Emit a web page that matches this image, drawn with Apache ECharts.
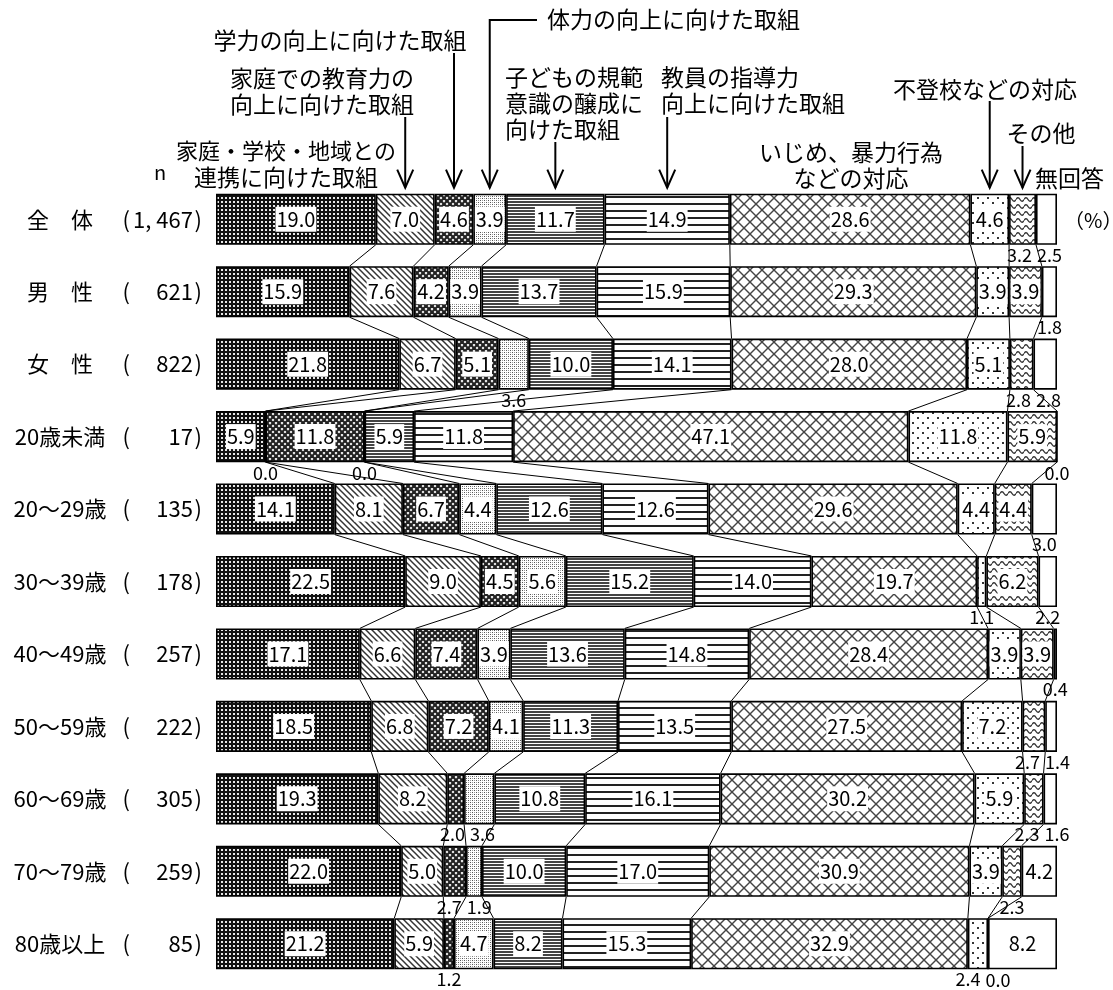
<!DOCTYPE html>
<html><head><meta charset="utf-8">
<script src="https://cdn.jsdelivr.net/npm/echarts@6/dist/echarts.min.js"></script>
<style>html,body{margin:0;padding:0;background:#fff}#c{width:1113px;height:990px}</style>
</head><body><div id="c"></div>
<script>
// ---- data ----
const categories = ['家庭・学校・地域との連携に向けた取組', '家庭での教育力の向上に向けた取組', '学力の向上に向けた取組', '体力の向上に向けた取組', '子どもの規範意識の醸成に向けた取組', '教員の指導力向上に向けた取組', 'いじめ、暴力行為などの対応', '不登校などの対応', 'その他', '無回答'];
const rowNames = ['全　体', '男　性', '女　性', '20歳未満', '20～29歳', '30～39歳', '40～49歳', '50～59歳', '60～69歳', '70～79歳', '80歳以上'];
const rowN = ['1, 467', '621', '822', '17', '135', '178', '257', '222', '305', '259', '85'];
const rowAll   = [19.0, 7.0, 4.6, 3.9, 11.7, 14.9, 28.6, 4.6, 3.2, 2.5];
const rowMale  = [15.9, 7.6, 4.2, 3.9, 13.7, 15.9, 29.3, 3.9, 3.9, 1.8];
const rowFem   = [21.8, 6.7, 5.1, 3.6, 10.0, 14.1, 28.0, 5.1, 2.8, 2.8];
const rowU20   = [5.9, 0.0, 11.8, 0.0, 5.9, 11.8, 47.1, 11.8, 5.9, 0.0];
const row20s   = [14.1, 8.1, 6.7, 4.4, 12.6, 12.6, 29.6, 4.4, 4.4, 3.0];
const row30s   = [22.5, 9.0, 4.5, 5.6, 15.2, 14.0, 19.7, 1.1, 6.2, 2.2];
const row40s   = [17.1, 6.6, 7.4, 3.9, 13.6, 14.8, 28.4, 3.9, 3.9, 0.4];
const row50s   = [18.5, 6.8, 7.2, 4.1, 11.3, 13.5, 27.5, 7.2, 2.7, 1.4];
const row60s   = [19.3, 8.2, 2.0, 3.6, 10.8, 16.1, 30.2, 5.9, 2.3, 1.6];
const row70s   = [22.0, 5.0, 2.7, 1.9, 10.0, 17.0, 30.9, 3.9, 2.3, 4.2];
const row80s   = [21.2, 5.9, 1.2, 4.7, 8.2, 15.3, 32.9, 2.4, 0.0, 8.2];
const rows = [rowAll, rowMale, rowFem, rowU20, row20s, row30s, row40s, row50s, row60s, row70s, row80s];

// ---- patterns ----
const FONT = '"Noto Sans CJK JP", "Noto Sans", sans-serif';
function tile(w, h, draw) {
  const c = document.createElement('canvas');
  c.width = w; c.height = h;
  const g = c.getContext('2d');
  g.fillStyle = '#fff'; g.fillRect(0, 0, w, h);
  draw(g, w, h);
  return {image: c, repeat: 'repeat'};
}
function diag(g, s, dir) {
  for (let o = -s; o <= s; o += s) {
    g.beginPath();
    if (dir > 0) { g.moveTo(o - 1, -1); g.lineTo(o + s + 1, s + 1); }
    else { g.moveTo(o + s + 1, -1); g.lineTo(o - 1, s + 1); }
    g.stroke();
  }
}
const patterns = [
  tile(4, 4, g => { g.fillStyle = '#111'; g.fillRect(0, 0, 4, 4); g.fillStyle = '#e8e8e8'; g.fillRect(1, 1, 2, 2); }),
  tile(6, 6, g => { g.strokeStyle = '#333'; g.lineWidth = 1.5; diag(g, 6, 1); }),
  tile(6, 6, g => { g.strokeStyle = '#222'; g.lineWidth = 2.2; diag(g, 6, 1); diag(g, 6, -1); }),
  tile(4, 4, g => { g.fillStyle = '#555'; g.fillRect(0, 0, 1, 1); g.fillRect(2, 2, 1, 1); g.fillStyle = '#999'; g.fillRect(2, 0, 1, 1); g.fillRect(0, 2, 1, 1); }),
  tile(4, 3, g => { g.fillStyle = '#444'; g.fillRect(0, 0, 4, 2); }),
  tile(4, 7, g => { g.fillStyle = '#222'; g.fillRect(0, 0, 4, 2); }),
  tile(12, 12, g => { g.strokeStyle = '#444'; g.lineWidth = 1.4; diag(g, 12, 1); diag(g, 12, -1); }),
  tile(10, 10, g => { g.fillStyle = '#333'; g.fillRect(2, 2, 2, 2); g.fillRect(7, 7, 2, 2); }),
  tile(8, 7, g => { g.strokeStyle = '#333'; g.lineWidth = 1.4; g.beginPath(); g.moveTo(0, 3.5); g.quadraticCurveTo(2, 0, 4, 3.5); g.quadraticCurveTo(6, 7, 8, 3.5); g.stroke(); }),
  '#fff'
];

// ---- derived ----
const sums = rows.map(r => r.reduce((a, b) => a + b, 0));
const norm = rows.map((r, i) => r.map(v => v / sums[i] * 100));
const cum = norm.map(r => { let s = 0; return r.map(v => (s += v)); });
const GAP = 0.295;
const INSIDE_MIN = 3.7;
const isOut = (i, k) => rows[i][k] < INSIDE_MIN;

function buildSeries(nudge) {
  const s = categories.map((name, k) => ({
    type: 'bar', name, stack: 'total', barCategoryGap: (GAP * 100) + '%',
    itemStyle: {color: patterns[k], borderColor: '#000', borderWidth: 1.6},
    label: {
      show: true, position: 'inside', color: '#000', fontSize: 20, fontFamily: FONT,
      backgroundColor: '#fff', padding: [3, 1, 2, 1],
      formatter: p => rows[p.dataIndex][k].toFixed(1)
    },
    emphasis: {disabled: true},
    data: norm.map((r, i) => {
      const item = {value: r[k]};
      if (isOut(i, k)) item.label = {position: 'bottom', distance: 1, backgroundColor: 'transparent', fontSize: 18, padding: 0, offset: [nudge ? nudge[i][k] : 0, 0]};
      return item;
    })
  }));
  s.push({
    type: 'custom', silent: true, z: 1,
    data: rows.slice(0, -1).map((r, i) => [0, i]),
    encode: {x: 0, y: 1},
    renderItem: (params, api) => {
      const i = api.value(1);
      const band = api.size([0, 1])[1];
      const half = band * (1 - GAP) / 2;
      const children = [];
      for (let k = 0; k < categories.length - 1; k++) {
        const a = api.coord([cum[i][k], i]);
        const b = api.coord([cum[i + 1][k], i + 1]);
        children.push({type: 'line', shape: {x1: a[0], y1: a[1] + half, x2: b[0], y2: b[1] - half}, style: {stroke: '#000', lineWidth: 1}});
      }
      return {type: 'group', children};
    }
  });
  return s;
}

const chart = echarts.init(document.getElementById('c'), null, {renderer: 'canvas'});
const option = {
  animation: false,
  backgroundColor: '#fff',
  grid: {left: 216, right: 56, top: 183, height: 797},
  xAxis: {type: 'value', min: 0, max: 100, show: false},
  yAxis: {
    type: 'category', inverse: true, data: rowNames,
    axisLine: {show: false}, axisTick: {show: false},
    axisLabel: {
      margin: 14, color: '#000', fontSize: 22, fontFamily: FONT,
      formatter: (v, i) => `{a|${v}}{g| }{p|(}{b|${rowN[i]}}{q|)}`,
      rich: {
        a: {width: 98, align: 'center', fontSize: 22, fontFamily: FONT},
        g: {width: 7, fontSize: 22},
        p: {width: 14, fontSize: 22, fontFamily: FONT},
        b: {width: 63, align: 'right', fontSize: 22, fontFamily: FONT},
        q: {width: 9, align: 'right', fontSize: 22, fontFamily: FONT}
      }
    }
  },
  series: buildSeries(null)
};
chart.setOption(option);

// ---- spread overlapping outside labels apart ----
const MIN_SEP = 30;
const nudge = rows.map((r, i) => {
  const off = r.map(() => 0);
  const cx = r.map((v, k) => chart.convertToPixel({xAxisIndex: 0}, cum[i][k] - norm[i][k] / 2));
  const outs = r.map((v, k) => k).filter(k => isOut(i, k));
  for (let j = 0; j + 1 < outs.length; j++) {
    const a = outs[j], b = outs[j + 1];
    const d = (cx[b] + off[b]) - (cx[a] + off[a]);
    if (d < MIN_SEP) { const sh = (MIN_SEP - d) / 2; off[a] -= sh; off[b] += sh; }
  }
  return off;
});
chart.setOption({series: buildSeries(nudge)});

// ---- annotations ----
const band = chart.convertToPixel({yAxisIndex: 0}, 1) - chart.convertToPixel({yAxisIndex: 0}, 0);
const row0y = chart.convertToPixel({yAxisIndex: 0}, 0);
const tipY = row0y - band * (1 - GAP) / 2 - 6;
const segX = k => chart.convertToPixel({xAxisIndex: 0}, cum[0][k] - norm[0][k] / 2);
const AF = '23px ' + FONT;
function txt(text, x, y, align, font) {
  return {type: 'text', silent: true, style: {text, x, y, fill: '#000', font: font || AF, textAlign: align || 'center', textVerticalAlign: 'middle'}};
}
function arrow(x, yTop, pts) {
  const line = pts ? pts.concat([[x, tipY]]) : [[x, yTop], [x, tipY]];
  return [
    {type: 'polyline', silent: true, shape: {points: line}, style: {stroke: '#000', lineWidth: 2, fill: null}},
    {type: 'polyline', silent: true, shape: {points: [[x - 8, tipY - 18], [x, tipY], [x + 8, tipY - 18]]}, style: {stroke: '#000', lineWidth: 2, fill: null}}
  ];
}
const x3 = segX(3);
const graphics = [
  txt('n', 160, 172, 'center', '20px ' + FONT),
  txt('家庭・学校・地域との', 286, 151, 'center', '22px ' + FONT),
  txt('連携に向けた取組', 286, 177),
  txt('家庭での教育力の', 322, 78),
  txt('向上に向けた取組', 322, 104),
  txt('学力の向上に向けた取組', 340, 40),
  txt('体力の向上に向けた取組', 547, 19, 'left'),
  txt('子どもの規範', 505, 77, 'left'),
  txt('意識の醸成に', 505, 103, 'left'),
  txt('向けた取組', 505, 129, 'left'),
  txt('教員の指導力', 661, 77, 'left'),
  txt('向上に向けた取組', 661, 103, 'left'),
  txt('不登校などの対応', 985, 89),
  txt('その他', 1041, 133),
  txt('いじめ、暴力行為', 851, 152),
  txt('などの対応', 851, 178),
  txt('無回答', 1035, 178, 'left'),
  txt('（%）', 1064, 220, 'left', '20px ' + FONT),
  ...arrow(segX(1), 117),
  ...arrow(segX(2), 53),
  ...arrow(x3, 0, [[537, 20], [x3, 20]]),
  ...arrow(segX(4), 142),
  ...arrow(segX(5), 117),
  ...arrow(segX(7), 101),
  ...arrow(segX(8), 146)
];
chart.setOption({graphic: graphics});
</script>
</body></html>
